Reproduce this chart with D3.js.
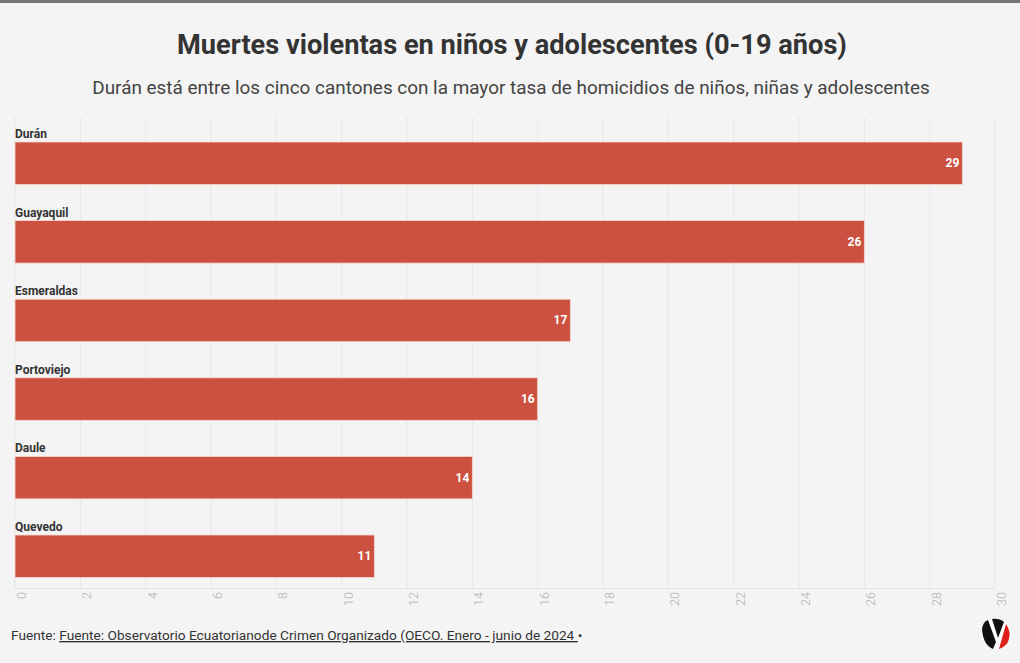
<!DOCTYPE html>
<html><head><meta charset="utf-8">
<script src="https://cdn.jsdelivr.net/npm/d3@7"></script>
<style>
html,body{margin:0;padding:0;background:#f4f4f4;}
svg{display:block;font-family:Roboto,"Noto Sans",sans-serif;}
</style></head>
<body><svg id="c" width="1020" height="663"></svg>
<script>
const categories = ["Durán","Guayaquil","Esmeraldas","Portoviejo","Daule","Quevedo"];
const values = [29,26,17,16,14,11];
const ticks = [0,2,4,6,8,10,12,14,16,18,20,22,24,26,28,30];
const title = "Muertes violentas en niños y adolescentes (0-19 años)";
const subtitle = "Durán está entre los cinco cantones con la mayor tasa de homicidios de niños, niñas y adolescentes";
const sourceLabel = "Fuente: ";
const sourceText = "Fuente: Observatorio Ecuatorianode Crimen Organizado (OECO. Enero - junio de 2024 ";

const svg = d3.select("#c");
svg.append("rect").attr("width",1020).attr("height",663).attr("fill","#f4f4f4");
svg.append("rect").attr("width",1020).attr("height",3).attr("fill","#777");

svg.append("text").attr("x",512).attr("y",54).attr("text-anchor","middle")
  .attr("font-size",27.2).attr("font-weight",700).attr("fill","#333").text(title);
svg.append("text").attr("x",511).attr("y",94).attr("text-anchor","middle")
  .attr("font-size",18.9).attr("fill","#444").text(subtitle);

const x = d3.scaleLinear().domain([0,30]).range([15,995]);
const y = d3.scaleBand().domain(categories).range([117,588.6]);

const g = svg.append("g");
g.selectAll("line.grid").data(ticks).join("line")
  .attr("x1",d=>x(d)).attr("x2",d=>x(d)).attr("y1",117).attr("y2",588)
  .attr("stroke","#e6e6e6").attr("stroke-width",1);
g.append("line").attr("x1",15).attr("x2",995).attr("y1",588.5).attr("y2",588.5)
  .attr("stroke","#e6e6e6");

const axis = d3.axisBottom(x).tickValues(ticks).tickSize(0).tickFormat(d3.format("d"));
const ax = svg.append("g").attr("transform","translate(0,592)").call(axis);
ax.select(".domain").remove();
ax.selectAll(".tick text").attr("transform","translate(6,0) rotate(-90)")
  .attr("x",0).attr("y",0).attr("dy","0.35em").attr("text-anchor","end")
  .attr("font-size",12.5).attr("fill","#b0b0b0").attr("font-family","Roboto,sans-serif").attr("font-weight",300);

g.selectAll("text.cat").data(categories).join("text")
  .attr("x",15).attr("y",d=>y(d)+21).attr("font-size",12).attr("font-weight",700)
  .attr("fill","#333").text(d=>d);

g.selectAll("rect.bar").data(values).join("rect")
  .attr("x",x(0)).attr("y",(d,i)=>y(categories[i])+25)
  .attr("width",d=>x(d)-x(0)).attr("height",42.5)
  .attr("fill","#cc5140").attr("stroke","#f7d8d2").attr("stroke-width",0.8);

g.selectAll("text.val").data(values).join("text")
  .attr("x",d=>x(d)-3).attr("y",(d,i)=>y(categories[i])+46).attr("dy","0.35em")
  .attr("text-anchor","end").attr("font-size",12).attr("font-weight",700)
  .attr("fill","#fff").text(d=>d);

const ft = svg.append("text").attr("x",11).attr("y",640).attr("font-size",13.7).attr("fill","#333");
ft.append("tspan").text(sourceLabel);
ft.append("tspan").attr("text-decoration","underline").text(sourceText);
ft.append("tspan").text("•");

const lg = svg.append("g").attr("transform","translate(996,634)");
lg.append("circle").attr("r",15).attr("fill","#fff");
lg.append("path").attr("d","M-14,-5 Q-13,-12 -8,-14 L0,8 L-3,15 Q-13,11 -14,-5Z").attr("fill","#111");
lg.append("path").attr("d","M-4,-15 Q3,-16 8,-12 L2,4 Z").attr("fill","#111");
lg.append("path").attr("d","M10,-10 Q16,-2 12,8 Q9,13 3,15 Z").attr("fill","#e0201b");
</script>
</body></html>
